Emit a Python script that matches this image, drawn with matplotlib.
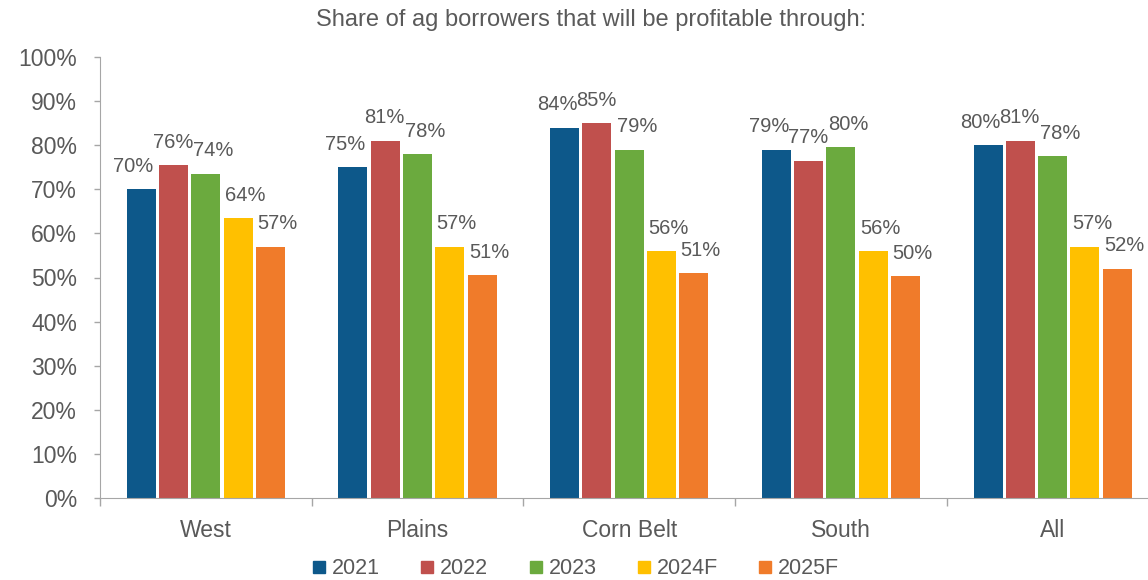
import matplotlib
matplotlib.use("Agg")
import matplotlib.pyplot as plt
from matplotlib.lines import Line2D
import numpy as np

plt.rcParams['font.family'] = ['Liberation Sans', 'DejaVu Sans']

categories = ["West", "Plains", "Corn Belt", "South", "All"]
series_names = ["2021", "2022", "2023", "2024F", "2025F"]
v2021 = [70, 75, 84, 79, 80]
v2022 = [75.5, 81, 85, 76.5, 81]
v2023 = [73.5, 78, 79, 79.5, 77.5]
v2024 = [63.5, 57, 56, 56, 57]
v2025 = [57, 50.5, 51, 50.3, 52]
labels2021 = ["70%", "75%", "84%", "79%", "80%"]
labels2022 = ["76%", "81%", "85%", "77%", "81%"]
labels2023 = ["74%", "78%", "79%", "80%", "78%"]
labels2024 = ["64%", "57%", "56%", "56%", "57%"]
labels2025 = ["57%", "51%", "51%", "50%", "52%"]
yticks = [0, 10, 20, 30, 40, 50, 60, 70, 80, 90, 100]
title = "Share of ag borrowers that will be profitable through:"

values = [v2021, v2022, v2023, v2024, v2025]
labels = [labels2021, labels2022, labels2023, labels2024, labels2025]
colors = ["#0D588A", "#C0504D", "#6BAA3E", "#FFC000", "#F07B2A"]
label_dx = [-5.5, -0.5, 5.5, 5.0, 5.0]  # points

text_color = "#595959"
spine_color = "#A6A6A6"

fig = plt.figure(figsize=(11.48, 5.8), dpi=100)
ax = fig.add_axes([100 / 1148, 82 / 580, (5 * 211.7) / 1148, (498 - 57) / 580])

x = np.arange(len(categories))
pitch = 0.1526
width = 0.137
for i, (vals, labs, col) in enumerate(zip(values, labels, colors)):
    xs = x + (i - 2) * pitch
    ax.bar(xs, vals, width=width, color=col, zorder=2)
    for xi, v, lab in zip(xs, vals, labs):
        ax.annotate(lab, (xi, v), xytext=(label_dx[i], 16.5), textcoords="offset points",
                    ha="center", va="center", fontsize=14.5, color=text_color)

ax.set_xlim(-0.5, len(categories) - 0.5)
ax.set_ylim(0, 100)
ax.set_yticks(yticks)
ax.set_yticklabels([f"{t}%" for t in yticks])
ax.set_xticks(x)
ax.set_xticklabels(categories)
ax.set_xticks(np.arange(len(categories)) - 0.5, minor=True)

ax.tick_params(axis="y", length=4.5, width=1, color=spine_color, pad=12,
               labelsize=16.5, labelcolor=text_color)
ax.tick_params(axis="x", which="major", length=0, pad=15, labelsize=16.5, labelcolor=text_color)
ax.tick_params(axis="x", which="minor", length=6, width=1, color=spine_color)

for s in ["top", "right"]:
    ax.spines[s].set_visible(False)
ax.spines["left"].set_color(spine_color)
ax.spines["bottom"].set_color(spine_color)

fig.text(591 / 1148, 1 - 20 / 580, title, ha="center", va="center", fontsize=17, color="#5a5a5a")

handles = [Line2D([], [], linestyle="none", marker="s", markersize=8.5, markerfacecolor=c,
                  markeredgecolor=c) for c in colors]
fig.legend(handles, series_names, loc="center", bbox_to_anchor=(576 / 1148, 1 - 569 / 580),
           ncol=5, frameon=False, fontsize=15.5, labelcolor=text_color,
           handlelength=0.6, handletextpad=0.3, columnspacing=1.9)

fig.savefig("out.png", dpi=100)
